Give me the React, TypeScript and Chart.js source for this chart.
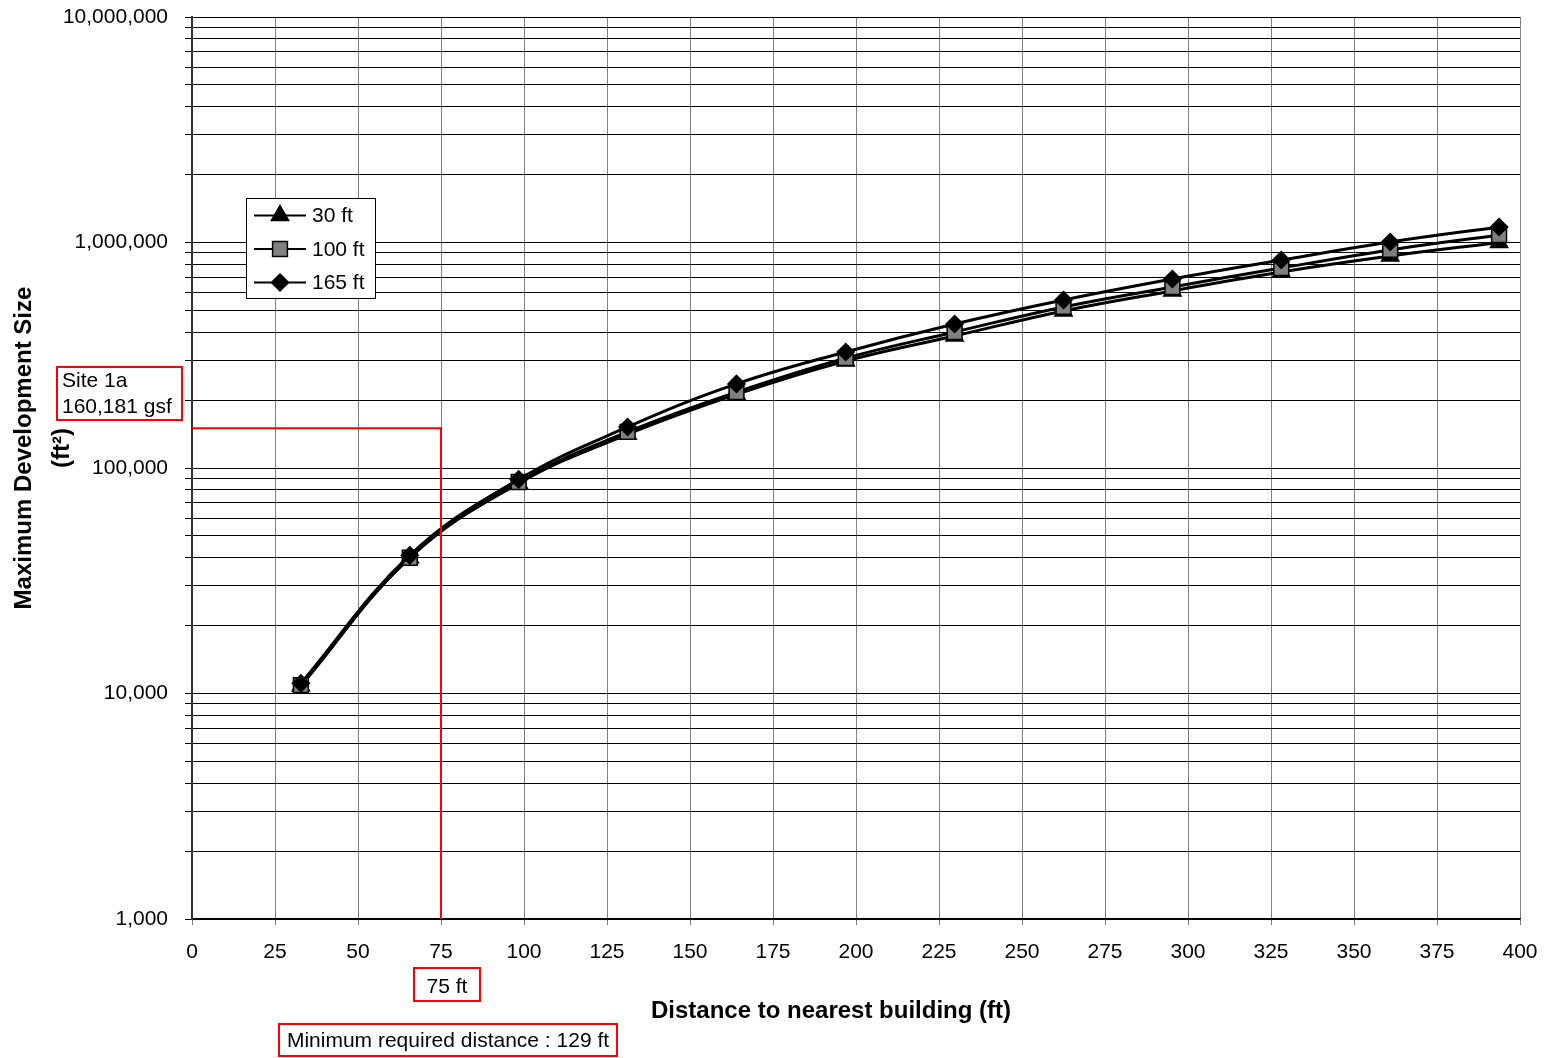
import React, { useEffect, useRef } from 'react';
import { Chart, registerables } from 'chart.js';

Chart.register(...registerables);

// ---- data ----
const distances = [32.8, 65.6, 98.4, 131.2, 164.0, 196.9, 229.7, 262.5, 295.3, 328.1, 360.9, 393.7];
const series30 = [10800, 40000, 85500, 141000, 212000, 298000, 385000, 497000, 610000, 740000, 871000, 1000000];
const series100 = [10900, 40000, 86700, 144500, 217000, 307000, 401000, 518000, 635000, 771000, 927000, 1080000];
const series165 = [11100, 41000, 89000, 152000, 236000, 327000, 435000, 556000, 689000, 836000, 1005000, 1172000];
const seriesLabels = ['30 ft', '100 ft', '165 ft'];

const xMin = 0;
const xMax = 400;
const xStep = 25;
const yDecades = [1000, 10000, 100000, 1000000, 10000000];
const yMultipliers = [1, 2, 3, 4, 5, 6, 7, 8, 9];

const siteLevel = 150000;
const requiredDistance = 75;
const siteLabel = ['Site 1a', '160,181 gsf'];
const distanceLabel = '75 ft';
const minDistanceLabel = 'Minimum required distance : 129 ft';
const yTitle = ['Maximum Development Size', '(ft\u00B2)'];
const xTitle = 'Distance to nearest building (ft)';

const FONT = "'Liberation Sans', Arial, sans-serif";

const yTickValues: number[] = [];
yDecades.forEach((d, i) => {
  if (i < yDecades.length - 1) yMultipliers.forEach((m) => yTickValues.push(d * m));
  else yTickValues.push(d);
});

const pointStyles = ['triangle', 'rect', 'rectRot'];
const pointRadii = [10, 10.5, 8.5];
const pointFills = ['#000000', '#808080', '#000000'];

function drawMarker(ctx: CanvasRenderingContext2D, style: string, x: number, y: number, r: number, fill: string) {
  ctx.save();
  ctx.beginPath();
  if (style === 'triangle') {
    ctx.moveTo(x, y - r);
    ctx.lineTo(x + Math.sin((2 * Math.PI) / 3) * r, y - Math.cos((2 * Math.PI) / 3) * r);
    ctx.lineTo(x + Math.sin((4 * Math.PI) / 3) * r, y - Math.cos((4 * Math.PI) / 3) * r);
  } else if (style === 'rect') {
    const s = Math.SQRT1_2 * r;
    ctx.rect(x - s, y - s, 2 * s, 2 * s);
  } else {
    ctx.moveTo(x, y - r);
    ctx.lineTo(x + r, y);
    ctx.lineTo(x, y + r);
    ctx.lineTo(x - r, y);
  }
  ctx.closePath();
  ctx.fillStyle = fill;
  ctx.fill();
  ctx.lineWidth = 1.5;
  ctx.strokeStyle = '#000';
  ctx.stroke();
  ctx.restore();
}

const overlayPlugin = {
  id: 'overlay',
  afterDraw(chart: any) {
    const ctx: CanvasRenderingContext2D = chart.ctx;
    ctx.save();
    // axis titles
    ctx.fillStyle = '#000';
    ctx.font = `bold 24px ${FONT}`;
    ctx.textAlign = 'center';
    ctx.textBaseline = 'middle';
    ctx.fillText(xTitle, 831, 1011);
    ctx.save();
    ctx.translate(24, 448);
    ctx.rotate(-Math.PI / 2);
    ctx.fillText(yTitle[0], 0, 0);
    ctx.restore();
    ctx.save();
    ctx.translate(62, 448);
    ctx.rotate(-Math.PI / 2);
    ctx.fillText(yTitle[1], 0, 0);
    ctx.restore();

    // legend
    ctx.fillStyle = '#fff';
    ctx.fillRect(246.5, 198.5, 129, 100);
    ctx.strokeStyle = '#000';
    ctx.lineWidth = 1;
    ctx.strokeRect(246.5, 198.5, 129, 100);
    ctx.font = `21px ${FONT}`;
    ctx.textAlign = 'left';
    ctx.textBaseline = 'middle';
    seriesLabels.forEach((lab, i) => {
      const y = 215.5 + i * 33.5;
      ctx.beginPath();
      ctx.moveTo(254, y);
      ctx.lineTo(306, y);
      ctx.strokeStyle = '#000';
      ctx.lineWidth = 2;
      ctx.stroke();
      drawMarker(ctx, pointStyles[i], 280, y, pointRadii[i], pointFills[i]);
      ctx.fillStyle = '#000';
      ctx.fillText(lab, 312, y + 1);
    });

    // annotation boxes
    ctx.strokeStyle = '#ff0000';
    ctx.lineWidth = 2;
    ctx.strokeRect(57, 367, 125, 53);
    ctx.strokeRect(414, 968, 66, 33);
    ctx.strokeRect(279, 1024, 338, 32);
    ctx.fillStyle = '#000';
    ctx.font = `21px ${FONT}`;
    ctx.textAlign = 'left';
    ctx.fillText(siteLabel[0], 62, 381);
    ctx.fillText(siteLabel[1], 62, 407);
    ctx.textAlign = 'center';
    ctx.fillText(distanceLabel, 447, 987);
    ctx.fillText(minDistanceLabel, 448, 1041);
    ctx.restore();
  },
};

export default function App() {
  const ref = useRef<HTMLCanvasElement | null>(null);
  useEffect(() => {
    document.body.style.margin = '0';
    const canvas = ref.current!;
    const mk = (vals: number[]) => distances.map((x, i) => ({ x, y: vals[i] }));
    const common = {
      borderColor: '#000',
      borderWidth: 3,
      tension: 0.4,
      pointBorderColor: '#000',
      pointBorderWidth: 1.5,
      fill: false,
    };
    const chart = new Chart(canvas, {
      type: 'line',
      data: {
        datasets: [
          {
            label: 'Site requirement',
            data: [
              { x: xMin, y: siteLevel },
              { x: requiredDistance, y: siteLevel },
              { x: requiredDistance, y: yDecades[0] },
            ],
            borderColor: '#ff0000',
            borderWidth: 2,
            pointRadius: 0,
            tension: 0,
            order: -1,
          } as any,
          {
            ...common,
            label: seriesLabels[0],
            data: mk(series30),
            pointStyle: 'triangle',
            pointRadius: pointRadii[0],
            pointBackgroundColor: pointFills[0],
            order: 2,
          },
          {
            ...common,
            label: seriesLabels[1],
            data: mk(series100),
            pointStyle: 'rect',
            pointRadius: pointRadii[1],
            pointBackgroundColor: pointFills[1],
            order: 1,
          },
          {
            ...common,
            label: seriesLabels[2],
            data: mk(series165),
            pointStyle: 'rectRot',
            pointRadius: pointRadii[2],
            pointBackgroundColor: pointFills[2],
            order: 0,
          },
        ],
      },
      options: {
        animation: false,
        responsive: false,
        devicePixelRatio: 1,
        layout: { padding: { top: 17, right: 25, bottom: 0, left: 0 } },
        plugins: { legend: { display: false }, tooltip: { enabled: false } },
        scales: {
          x: {
            type: 'linear',
            min: xMin,
            max: xMax,
            ticks: {
              stepSize: xStep,
              color: '#000',
              font: { family: FONT, size: 21 },
              padding: 15,
              maxRotation: 0,
            },
            grid: {
              color: (c: any) => (c.tick && c.tick.value === xMin ? 'rgba(0,0,0,0)' : '#808080'),
              tickColor: '#808080',
              tickLength: 6,
              lineWidth: 1,
            },
            border: { color: '#000', width: 1.5 },
            afterFit: (s: any) => {
              s.height = 139;
              s.paddingLeft = 0;
              s.paddingRight = 0;
              s.paddingTop = 0;
              s.paddingBottom = 0;
            },
          },
          y: {
            type: 'logarithmic',
            min: yDecades[0],
            max: yDecades[yDecades.length - 1],
            afterBuildTicks: (s: any) => {
              s.ticks = yTickValues.map((v) => ({ value: v }));
            },
            ticks: {
              autoSkip: false,
              color: '#000',
              font: { family: FONT, size: 21 },
              padding: 17,
              callback: (v: any) => {
                const n = Number(v);
                const l = Math.log10(n);
                return Math.abs(l - Math.round(l)) < 1e-9 ? n.toLocaleString('en-US') : '';
              },
            },
            grid: {
              color: '#000',
              tickColor: '#000',
              tickLength: 7,
              lineWidth: 1,
            },
            border: { color: '#333', width: 2 },
            afterFit: (s: any) => {
              s.width = 192;
              s.paddingLeft = 0;
              s.paddingRight = 0;
              s.paddingTop = 0;
              s.paddingBottom = 0;
            },
          },
        },
      },
      plugins: [overlayPlugin],
    } as any);
    return () => chart.destroy();
  }, []);
  return (
    <div style={{ width: 1545, height: 1058 }}>
      <canvas ref={ref} width={1545} height={1058} style={{ display: 'block', width: 1545, height: 1058 }} />
    </div>
  );
}
